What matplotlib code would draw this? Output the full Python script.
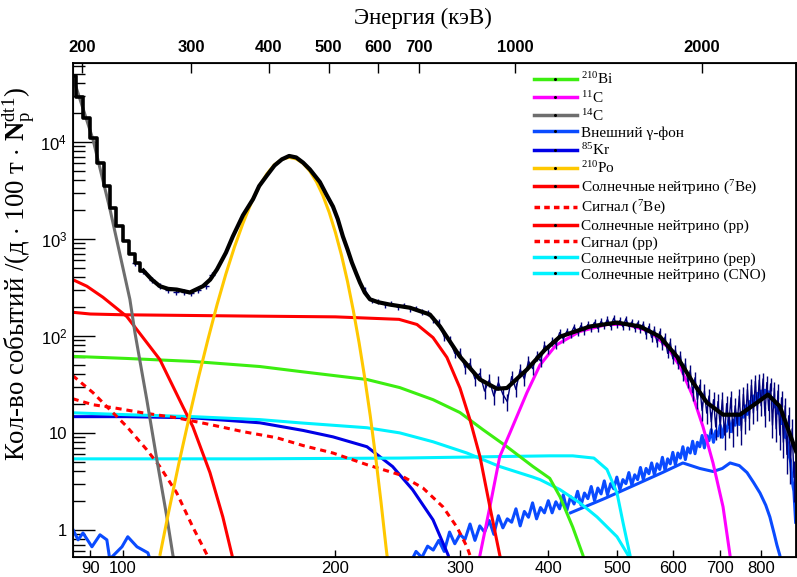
import numpy as np
import matplotlib
matplotlib.use("Agg")
import matplotlib.pyplot as plt
from matplotlib.lines import Line2D
from matplotlib.ticker import NullLocator, NullFormatter, LogLocator

plt.rcParams['font.family'] = ['Liberation Serif', 'DejaVu Serif']
plt.rcParams['mathtext.fontset'] = 'custom'
plt.rcParams['mathtext.rm'] = 'Liberation Serif'
plt.rcParams['mathtext.it'] = 'Liberation Serif:italic'
plt.rcParams['mathtext.bf'] = 'Liberation Serif:bold'
plt.rcParams['mathtext.sf'] = 'Liberation Sans'

# --- данные (N_p, события) ---
c14_n = [85, 90.8, 96, 100, 102.4, 104.1, 108.2, 111.8, 115.5, 117.8, 119]
c14_v = [47000, 10600, 2000, 520, 238, 108, 22, 5.3, 1.36, 0.55, 0.4]

po_n = [113, 116, 120, 124, 128, 132, 136, 140, 144, 148, 152, 156, 160, 164, 168, 172,
        176, 180, 184, 188, 192, 196, 200, 204, 208, 212, 216, 220, 224, 228, 232, 236, 239]
po_v = [0.56, 1.45, 4.7, 13.7, 37, 91, 209, 436, 830, 1450, 2340, 3470, 4680, 5820, 6610, 6920,
        6670, 5990, 4990, 3870, 2790, 1870, 1160, 675, 364, 182, 85, 37, 15, 5.6, 1.93, 0.63, 0.3]

be7_n = [85, 90, 100, 150, 200, 246, 260.8, 274.8, 287.5, 300, 309.9, 320.2, 330.7, 341.5, 345]
be7_v = [175, 168, 165, 160, 157, 148, 131, 96, 60, 29, 13.7, 5.7, 1.73, 0.55, 0.4]

pp_n = [85, 89, 93.8, 101.4, 112.9, 121.7, 125.7, 132.9, 138.6, 142.8, 144]
pp_v = [380, 325, 250, 158, 57, 18.6, 11.6, 3.9, 1.36, 0.55, 0.4]

sig_pp_n = [85, 90.8, 95.9, 101.4, 108.2, 112.9, 119.3, 125.7, 131.7, 133]
sig_pp_v = [39, 26, 17.4, 11.6, 6.7, 4.5, 2.4, 1.07, 0.55, 0.4]

sig_be7_n = [85, 90.8, 96.9, 106.8, 119.3, 132.9, 148, 165.3, 180, 198.4, 221.6, 246.6,
             266, 283.8, 297, 306.9, 309.9, 312]
sig_be7_v = [22.5, 19.5, 18.2, 16.1, 14.3, 12.2, 10.3, 8.9, 7.4, 6.2, 4.7, 3.7,
             2.7, 1.73, 1.07, 0.67, 0.55, 0.4]

bi_n = [85, 101.4, 125.7, 156.4, 177.9, 221.6, 246.6, 274.8, 300, 323.3, 349.6, 380.5,
        401.9, 415.5, 433.1, 447.7, 452]
bi_v = [61.5, 58.5, 54.5, 48.3, 43, 35.5, 29.3, 22, 16.2, 10.8, 7.2, 4.5,
        3.4, 2.2, 1.07, 0.55, 0.4]

c11_n = [318, 320.2, 330.7, 341.5, 353, 373.1, 389.3, 410, 443.3, 484.2, 516.8, 556.6,
         588.8, 614.2, 640.8, 661.9, 683.9, 706.6, 722.8, 726]
c11_v = [0.4, 0.55, 1.73, 5.7, 10, 26, 50, 80, 111, 131, 131, 111,
         77.6, 48.3, 23.6, 11.6, 4.9, 1.73, 0.55, 0.4]

kr_n = [85, 101.4, 125.7, 156.4, 180, 198.4, 221.6, 240.9, 257.1, 274.8, 288.7, 292]
kr_v = [14.7, 14.7, 14.3, 12.7, 10.6, 9.1, 7.2, 4.5, 2.6, 1.27, 0.55, 0.4]

pep_n = [85, 101.4, 125.7, 156.4, 177.9, 221.6, 246.6, 274.8, 306.9, 341.5, 380.5, 389.3,
         415.5, 443.3, 468.8, 500.3, 518.6, 522]
pep_v = [16.1, 15.4, 14.7, 13.7, 12.7, 11.3, 10, 8.1, 6.2, 4.5, 3.5, 3.3,
         2.6, 1.9, 1.36, 0.85, 0.55, 0.4]

cno_n = [85, 150, 246.6, 341.5, 401.9, 433.1, 464, 484.2, 500.3, 510.3, 521.9, 525]
cno_v = [5.4, 5.4, 5.5, 5.7, 5.8, 5.8, 5.5, 4.2, 2.4, 1.18, 0.55, 0.4]

# внешний гамма-фон: основной (шаг 5 N_p от 255), второй компонент, левый хвост
gam_start = 255
gam_v = [0.45, 0.6, 0.52, 0.68, 0.62, 0.78, 0.6, 0.95, 0.72, 0.9, 0.8, 1.15, 0.78, 1.1, 0.95,
         1.25, 0.9, 1.4, 1.05, 1.3, 1.2, 1.65, 1.1, 1.55, 1.35, 1.9, 1.3, 1.7, 1.5, 2.0,
         1.5, 1.95, 1.65, 2.3, 1.6, 2.2, 1.85, 2.5, 1.8, 2.4, 2.1, 2.8, 2.0, 2.7, 2.35,
         3.2, 2.3, 3.0, 2.65, 3.5, 2.6, 3.3, 3.0, 3.9, 2.9, 3.7, 3.3, 4.4, 3.3, 4.3,
         3.8, 4.9, 3.7, 4.8, 4.2, 5.6, 4.1, 5.4, 4.8, 6.3, 4.7, 6.2, 5.5, 7.2, 5.3,
         7.0, 6.2, 8.2, 6.1, 8.0, 7.2, 9.4, 7.0, 9.4, 8.3, 10.8, 8.0, 10.5, 9.3, 12.0,
         9.0, 11.8, 10.4, 13.6, 10.3, 13.5, 12.0, 15.8, 12.2, 16.0, 14.5, 19.0, 15.5, 21.0, 19.0,
         24.0, 20.5, 25.5, 23.0, 27.0, 23.5, 27.5, 24.5, 26.5, 22.5, 23.0, 18.5, 19.5, 16.0,
         16.5, 12.5, 12.5, 9.0, 9.0, 6.0, 5.2, 3.2, 2.5, 1.2]

gam2_n = [430, 480, 530, 580, 620, 655, 684, 705, 723, 745, 764, 780, 797, 812, 823, 835, 842, 850, 856]
gam2_v = [1.5, 2.1, 2.9, 3.9, 4.9, 4.3, 4.0, 4.3, 4.9, 4.6, 3.9, 3.1, 2.4, 1.8, 1.36, 0.9, 0.7, 0.55, 0.4]

gam3_n = [85, 86.5, 87.9, 90.5, 92.9, 95.0, 95.9, 99.8, 101.7, 104.8, 108.6, 109.3]
gam3_v = [1.02, 0.79, 0.93, 0.67, 0.89, 0.79, 0.5, 0.67, 0.85, 0.67, 0.58, 0.5]

# суммарный фит
fit_step_n = [85, 87, 89, 91, 93, 95, 97, 99, 101, 103, 105, 107]
fit_step_v = [48000, 29000, 17500, 11000, 6000, 3500, 2100, 1350, 950, 700, 560, 470]
fit_n = [107, 110, 112.9, 116, 119.3, 124.5, 129.9, 133, 136, 140, 143.2, 148, 152.9, 156,
         160, 164, 168, 172, 176, 180, 184, 190.1, 194, 198.4, 201.5, 204.9, 208, 211,
         214, 216.6, 220, 223.8, 230, 238.8, 254.9, 272, 281.1, 300, 320.2, 338.4,
         349.6, 373.1, 395.7, 415.5, 458.1, 500.3, 539.3, 575.4, 608.3, 640.8, 670.6,
         706.6, 746.6, 789.3, 818, 850.4, 887.4, 896]
fit_v = [470, 380, 325, 305, 300, 280, 325, 380, 485, 720, 1060, 1750, 2560, 3500,
         4500, 5700, 6600, 7150, 6900, 6100, 5200, 3850, 2900, 2150, 1600, 1060, 780, 570,
         440, 355, 280, 238, 222, 210, 195, 166, 125, 61, 35.5, 28.5,
         29, 45, 72, 98, 125, 137, 125, 98, 61, 33, 20.5,
         15.4, 15.4, 20.5, 24.8, 18.7, 7.9, 6.5]

# экспериментальные точки
dat_left_n = [104, 107, 110, 113, 116, 119, 122, 125, 128, 131, 134]
dat_left_v = [560, 470, 380, 330, 300, 285, 280, 275, 300, 330, 420]
dat_start = 200
dat_v = [1830, 1020, 650, 395, 300, 232, 228, 209, 214, 198, 207, 190, 193, 176, 174, 148,
         138, 98, 92, 66, 68, 47, 52, 36, 41, 27, 35, 24, 33, 25, 21, 38, 28, 45, 36, 55,
         46, 62, 55, 80, 72, 88, 82, 108, 93, 112, 104, 124, 108, 128, 112, 131, 120, 138,
         119, 141, 127, 148, 125, 152, 131, 144, 124, 150, 125, 139, 119, 136, 116, 133,
         103, 125, 96, 116, 85, 110, 80, 97, 66, 86, 58, 72, 52, 63, 40, 52, 34, 44, 26, 37,
         22, 31, 17, 27, 16, 24, 13, 22, 11.5, 21, 12, 22, 9.5, 20, 12, 23, 10, 19, 12.5, 24,
         10.5, 25, 13, 28, 14, 31, 16, 34, 17, 35, 19, 36, 15, 33, 17, 32, 12, 29, 11, 27,
         9.5, 23, 8, 19, 6, 15, 5, 11, 3.5]

# ось энергии сверху
e_ticks = [200, 300, 400, 500, 600, 700, 1000, 2000]
x_ticks = [90, 100, 200, 300, 400, 500, 600, 700, 800]


def n_of_e(e):
    return 87.6 * (np.asarray(e, dtype=float) / 200.0) ** 0.877


GREEN = '#3cee10'
MAGENTA = '#ff00ff'
GRAY = '#6e6e6e'
GBLUE = '#0a4bff'
KBLUE = '#0000e6'
GOLD = '#ffc800'
RED = '#ff0000'
CYAN = '#00f2ff'
NAVY = '#00007a'

fig = plt.figure(figsize=(7.97, 5.77), dpi=100)
ax = fig.add_axes([0.0912, 0.0347, 0.9075, 0.8562])
ax.set_xscale('log')
ax.set_yscale('log')

lw = 2.2
gam_n = gam_start + 5 * np.arange(len(gam_v))
ax.plot(gam3_n, gam3_v, color=GBLUE, lw=lw, zorder=2)
ax.plot(gam2_n, gam2_v, color=GBLUE, lw=lw, zorder=2)
ax.plot(gam_n, gam_v, color=GBLUE, lw=lw, zorder=2)
ax.plot(kr_n, kr_v, color=KBLUE, lw=lw, zorder=2)
ax.plot(cno_n, cno_v, color=CYAN, lw=lw, zorder=2)
ax.plot(pep_n, pep_v, color=CYAN, lw=lw, zorder=2)
ax.plot(bi_n, bi_v, color=GREEN, lw=lw, zorder=2)
ax.plot(c11_n, c11_v, color=MAGENTA, lw=lw, zorder=2)
ax.plot(be7_n, be7_v, color=RED, lw=lw, zorder=2)
ax.plot(pp_n, pp_v, color=RED, lw=lw, zorder=2)
ax.plot(sig_be7_n, sig_be7_v, color=RED, lw=lw, ls=(0, (2, 1.6)), zorder=2)
ax.plot(sig_pp_n, sig_pp_v, color=RED, lw=lw, ls=(0, (2, 1.6)), zorder=2)
ax.plot(c14_n, c14_v, color=GRAY, lw=lw, zorder=2)
ax.plot(po_n, po_v, color=GOLD, lw=lw, zorder=2)

dat_n = dat_start + 5 * np.arange(len(dat_v))
dat_v = np.array(dat_v, dtype=float)
rel = np.minimum(0.9 / np.sqrt(dat_v), 0.45)
ax.vlines(dat_n, dat_v * (1 - rel), dat_v * (1 + rel), color=NAVY, lw=1, zorder=3)
ax.plot(dat_n, dat_v, color=NAVY, lw=1, zorder=3)
ax.plot(dat_left_n, dat_left_v, '+', color=NAVY, ms=5, mew=1, zorder=3)

ax.plot(fit_step_n, fit_step_v, color='k', lw=2.6, drawstyle='steps-mid', zorder=4)
ax.plot(fit_n, fit_v, color='k', lw=3, zorder=4)

ax.set_xlim(85, 896)
ax.set_ylim(0.526, 65000)

ax.set_xticks(x_ticks)
ax.set_xticklabels([str(t) for t in x_ticks])
ax.xaxis.set_minor_locator(NullLocator())
ax.tick_params(axis='x', which='major', direction='in', length=5, width=1,
               labelsize=12, pad=3, top=False, labelfontfamily='Liberation Sans')
ax.set_yticks([1, 10, 100, 1000, 10000])
ax.set_yticklabels(['1', '10', r'$\mathsf{10^{2}}$', r'$\mathsf{10^{3}}$', r'$\mathsf{10^{4}}$'])
ax.yaxis.set_minor_locator(LogLocator(base=10, subs=np.arange(2, 10)))
ax.yaxis.set_minor_formatter(NullFormatter())
ax.tick_params(axis='y', which='major', direction='in', length=16, width=1,
               labelsize=12, pad=4, right=False, labelfontfamily='Liberation Sans')
ax.tick_params(axis='y', which='minor', direction='in', length=8.5, width=1, right=False)
for s in ax.spines.values():
    s.set_linewidth(1.3)

ax2 = ax.twiny()
ax2.set_xscale('log')
ax2.set_xlim(ax.get_xlim())
ax2.set_xticks(n_of_e(e_ticks))
ax2.set_xticklabels([str(e) for e in e_ticks])
ax2.xaxis.set_minor_locator(NullLocator())
ax2.tick_params(axis='x', direction='in', length=7, width=1, labelsize=12, pad=6,
                labelfontfamily='Liberation Sans')
for lab in ax2.get_xticklabels():
    lab.set_fontweight('bold')

fig.text(423 / 797, 1 - 18 / 577, 'Энергия (кэВ)', ha='center', va='center', fontsize=16.5)
fig.text(19 / 797, 1 - 274 / 577,
         r'Кол-во событий /(д $\cdot$ 100 т $\cdot$ $\mathbf{N}_{\mathrm{p}}^{\mathrm{dt1}}$)',
         rotation=90, ha='center', va='center', fontsize=19.3)

entries = [
    (r'$^{210}$Bi', GREEN, '-'),
    (r'$^{11}$C', MAGENTA, '-'),
    (r'$^{14}$C', GRAY, '-'),
    ('Внешний γ-фон', GBLUE, '-'),
    (r'$^{85}$Kr', KBLUE, '-'),
    (r'$^{210}$Po', GOLD, '-'),
    (r'Солнечные нейтрино ($^{7}$Be)', RED, '-'),
    (r'Сигнал ($^{7}$Be)', RED, '--'),
    ('Солнечные нейтрино (pp)', RED, '-'),
    ('Сигнал (pp)', RED, '--'),
    ('Солнечные нейтрино (pep)', CYAN, '-'),
    ('Солнечные нейтрино (CNO)', CYAN, '-'),
]
handles = []
for lab, col, st in entries:
    if st == '--':
        h = Line2D([], [], color=col, lw=2.5, ls=(0, (1.6, 1.2)))
    else:
        h = Line2D([], [], color=col, lw=2.5, marker='o', ms=1.2, mfc='k', mec='k')
    handles.append(h)
leg = ax.legend(handles, [e[0] for e in entries], loc='upper left',
                bbox_to_anchor=(0.6295, 0.995), frameon=True, facecolor='white',
                edgecolor='white', framealpha=1, fontsize=11, handlelength=2.8,
                handletextpad=0.3, labelspacing=0.15, borderpad=0.4, borderaxespad=0,
                numpoints=1)
leg.set_zorder(10)

fig.savefig('out.png', dpi=100)
